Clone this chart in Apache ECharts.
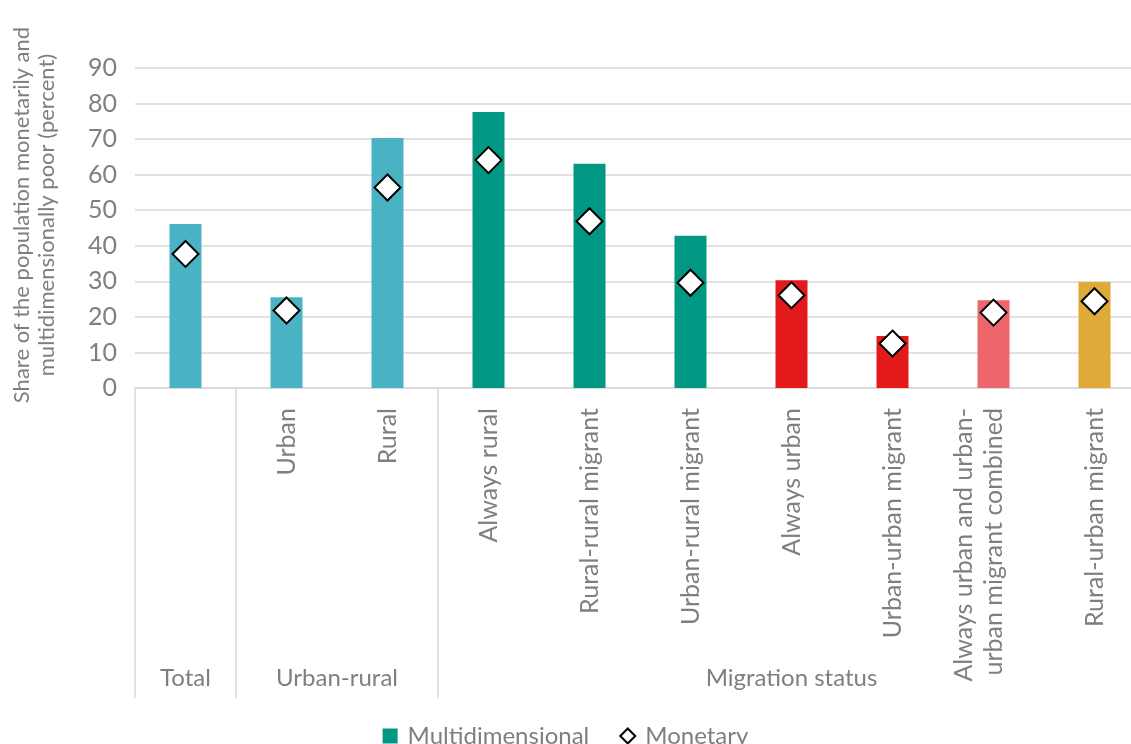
<!DOCTYPE html>
<html>
<head>
<meta charset="utf-8">
<script src="https://cdn.jsdelivr.net/npm/echarts@6/dist/echarts.min.js"></script>
<style>
html,body{margin:0;padding:0;background:#fff;}
#chart{width:1131px;height:744px;}
</style>
</head>
<body>
<div id="chart"></div>
<script>
const categories = ['Total','Urban','Rural','Always rural','Rural-rural migrant','Urban-rural migrant','Always urban','Urban-urban migrant','Always urban and urban-\nurban migrant combined','Rural-urban migrant'];
const multidimensional = [46.1, 25.5, 70.3, 77.6, 63.1, 42.8, 30.3, 14.6, 24.7, 29.8];
const monetary = [37.7, 21.8, 56.4, 64.1, 46.9, 29.6, 26.1, 12.5, 21.2, 24.4];
const barColors = ['#4AB3C3','#4AB3C3','#4AB3C3','#009882','#009882','#009882','#E31A1A','#E31A1A','#EC666B','#DFAA37'];
const groupNames = ['Total','Urban-rural','Migration status'];
const groupSpans = [1, 2, 7];
const yTicks = {min: 0, max: 90, interval: 10};

const FONT = 'Lato, "Open Sans", sans-serif';
const GRAY = '#7f7f7f';

// group boundaries & centres (in category units)
const groupStarts = [];
const groupCenters = [];
let acc = 0;
groupSpans.forEach(s => { groupStarts.push(acc); groupCenters.push(acc + s / 2); acc += s; });

const chart = echarts.init(document.getElementById('chart'));
chart.setOption({
  animation: false,
  textStyle: {fontFamily: FONT},
  grid: {left: 135, top: 68, width: 1010, height: 320, containLabel: false, outerBoundsMode: 'none'},
  legend: {
    top: 719, left: 'center',
    itemGap: 30, itemWidth: 15, itemHeight: 15,
    textStyle: {fontFamily: FONT, fontSize: 24, color: GRAY, padding: [0, 0, 0, 5]},
    data: [
      {name: 'Multidimensional', icon: 'rect'},
      {name: 'Monetary', icon: 'diamond', itemStyle: {color: '#fff', borderColor: '#000', borderWidth: 2}}
    ]
  },
  xAxis: [
    {
      type: 'category', data: categories, position: 'bottom',
      axisLine: {show: true, lineStyle: {color: '#d9d9d9', width: 1.5}},
      axisTick: {show: true, length: 310, interval: (i) => groupStarts.includes(i), lineStyle: {color: '#d9d9d9', width: 1.5}},
      axisLabel: {
        rotate: 90, margin: 20, interval: 0, fontFamily: FONT, fontSize: 25, color: GRAY, lineHeight: 30,
        // single-category groups show their name only once, in the group row;
        // two-line labels sit slightly left of their tick in the original
        formatter: (v, i) => {
          if (groupStarts.includes(i) && groupSpans[groupStarts.indexOf(i)] === 1) return '';
          return v.includes('\n') ? v + '\n ' : v;
        }
      },
      splitLine: {show: false}
    },
    {
      type: 'value', min: 0, max: categories.length, position: 'bottom', offset: 278,
      axisLine: {show: false}, axisTick: {show: false}, splitLine: {show: false},
      axisLabel: {
        customValues: groupCenters, margin: 0, fontFamily: FONT, fontSize: 24, color: GRAY,
        formatter: (v) => { const i = groupCenters.indexOf(v); return i >= 0 ? groupNames[i] : ''; }
      }
    }
  ],
  yAxis: {
    type: 'value', min: yTicks.min, max: yTicks.max, interval: yTicks.interval,
    name: 'Share of the population monetarily and\nmultidimensionally poor (percent)',
    nameLocation: 'middle', nameGap: 76,
    nameTextStyle: {fontFamily: FONT, fontSize: 22, color: GRAY, lineHeight: 25, padding: [0, 0, 0, 26]},
    axisLine: {show: false}, axisTick: {show: false},
    axisLabel: {margin: 18, fontFamily: FONT, fontSize: 25, color: GRAY},
    splitLine: {lineStyle: {color: '#d9d9d9', width: 1.5}}
  },
  series: [
    {
      name: 'Multidimensional', type: 'bar', xAxisIndex: 0, barWidth: 32,
      itemStyle: {color: '#009882'},
      data: multidimensional.map((v, i) => ({value: v, itemStyle: {color: barColors[i]}}))
    },
    {
      name: 'Monetary', type: 'scatter', xAxisIndex: 0, symbol: 'diamond', symbolSize: 26,
      itemStyle: {color: '#fff', borderColor: '#000', borderWidth: 2, opacity: 1},
      data: monetary, z: 5
    }
  ]
});
</script>
</body>
</html>
